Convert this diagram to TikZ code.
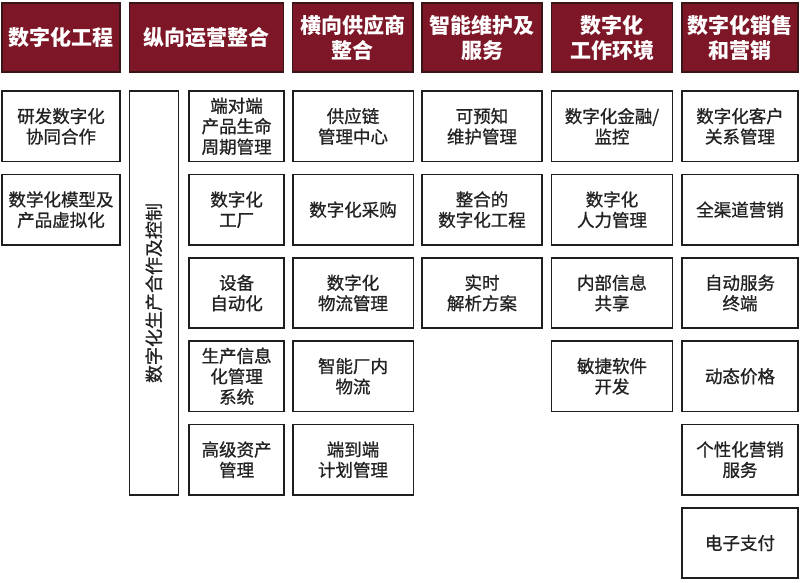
\documentclass[tikz,border=0pt]{standalone}
\usepackage{fontspec}
\newfontfamily\cjk[FakeBold=0.9]{Noto Sans CJK SC}
\newfontfamily\cjkh{Noto Sans CJK SC}
\definecolor{hdrred}{HTML}{7D1626}
\definecolor{hdrline}{HTML}{3A1518}
\definecolor{boxline}{HTML}{1E1E1E}
\definecolor{txt}{HTML}{222222}
\begin{document}
\begin{tikzpicture}[x=1pt,y=-1pt,
  hdr/.style={draw=hdrline, fill=hdrred, line width=1.6pt, text=white, align=center,
    font=\cjkh\bfseries\fontsize{21}{25}\selectfont, inner sep=0pt, minimum height=69pt},
  cell/.style={draw=boxline, fill=white, line width=1.6pt, text=txt, align=center,
    font=\cjk\fontsize{17.5}{20.5}\selectfont, inner sep=0pt, minimum height=70.5pt}]
\useasboundingbox[fill=white] (0,0) rectangle (800,582);
% headers
\node[hdr, minimum width=118pt] (h1) at (61,37.5) {数字化工程};
\node[hdr, minimum width=154pt] (h2) at (206.5,37.5) {纵向运营整合};
\node[hdr, minimum width=120.5pt] (h3) at (352.8,37.5) {横向供应商\\整合};
\node[hdr, minimum width=120pt] (h4) at (482,37.5) {智能维护及\\服务};
\node[hdr, minimum width=121pt] (h5) at (612,37.5) {数字化\\工作环境};
\node[hdr, minimum width=116pt] (h6) at (740,37.5) {数字化销售\\和营销};
% column 1
\node[cell, minimum width=118pt] (a1) at (61,126.3) {研发数字化\\协同合作};
\node[cell, minimum width=118pt] (a2) at (61,209.7) {数学化模型及\\产品虚拟化};
% column 2
\node[cell, minimum width=49pt, minimum height=404pt] (bt) at (153.8,293) {};
\node[rotate=90, text=txt, font=\cjk\fontsize{18}{20}\selectfont] (btl) at (bt.center) {数字化生产合作及控制};
\node[cell, minimum width=94.7pt] (b1) at (236.6,126.3) {端对端\\产品生命\\周期管理};
\node[cell, minimum width=94.7pt] (b2) at (236.6,209.7) {数字化\\工厂};
\node[cell, minimum width=94.7pt] (b3) at (236.6,293) {设备\\自动化};
\node[cell, minimum width=94.7pt] (b4) at (236.6,376.3) {生产信息\\化管理\\系统};
\node[cell, minimum width=94.7pt] (b5) at (236.6,459.7) {高级资产\\管理};
% column 3
\node[cell, minimum width=120.6pt] (c1) at (353,126.3) {供应链\\管理中心};
\node[cell, minimum width=120.6pt] (c2) at (353,209.7) {数字化采购};
\node[cell, minimum width=120.6pt] (c3) at (353,293) {数字化\\物流管理};
\node[cell, minimum width=120.6pt] (c4) at (353,376.3) {智能厂内\\物流};
\node[cell, minimum width=120.6pt] (c5) at (353,459.7) {端到端\\计划管理};
% column 4
\node[cell, minimum width=120pt] (d1) at (482,126.3) {可预知\\维护管理};
\node[cell, minimum width=120pt] (d2) at (482,209.7) {整合的\\数字化工程};
\node[cell, minimum width=120pt] (d3) at (482,293) {实时\\解析方案};
% column 5
\node[cell, minimum width=120.8pt] (e1) at (612,126.3) {数字化金融/\\监控};
\node[cell, minimum width=120.8pt] (e2) at (612,209.7) {数字化\\人力管理};
\node[cell, minimum width=120.8pt] (e3) at (612,293) {内部信息\\共享};
\node[cell, minimum width=120.8pt] (e4) at (612,376.3) {敏捷软件\\开发};
% column 6
\node[cell, minimum width=116pt] (f1) at (740,126.3) {数字化客户\\关系管理};
\node[cell, minimum width=116pt] (f2) at (740,209.7) {全渠道营销};
\node[cell, minimum width=116pt] (f3) at (740,293) {自动服务\\终端};
\node[cell, minimum width=116pt] (f4) at (740,376.3) {动态价格};
\node[cell, minimum width=116pt] (f5) at (740,459.7) {个性化营销\\服务};
\node[cell, minimum width=116pt] (f6) at (740,543) {电子支付};
\end{tikzpicture}
\end{document}
